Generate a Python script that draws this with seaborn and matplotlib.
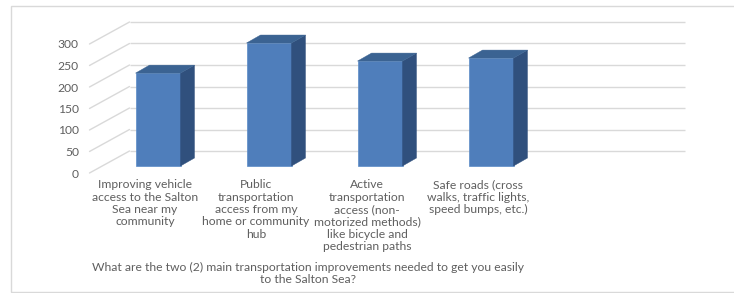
import numpy as np
import pandas as pd
import matplotlib
matplotlib.use("Agg")
import matplotlib.pyplot as plt
from matplotlib.patches import Polygon, Rectangle
import seaborn as sns

# ---- data ----
categories = [
    "Improving vehicle\naccess to the Salton\nSea near my\ncommunity",
    "Public\ntransportation\naccess from my\nhome or community\nhub",
    "Active\ntransportation\naccess (non-\nmotorized methods)\nlike bicycle and\npedestrian paths",
    "Safe roads (cross\nwalks, traffic lights,\nspeed bumps, etc.)",
]
values = [216, 286, 244, 251]
y_ticks = [0, 50, 100, 150, 200, 250, 300]
x_title = ("What are the two (2) main transportation improvements needed to get you easily\n"
           "to the Salton Sea?")

# ---- style ----
sns.set_theme(style="white")
plt.rcParams["font.family"] = ["Lato", "DejaVu Sans"]
TXT = "#5f5f5f"
GRID = "#d9d9d9"
FRONT = "#4F7EBB"
TOP = "#3B6392"
SIDE = "#30507D"
FS = 8.7

W, H, DPI = 734, 293, 100
fig = plt.figure(figsize=(W / DPI, H / DPI), dpi=DPI)

# pixel geometry
PX_X = 111.0      # px per category
PX_Y = 0.43       # px per value unit
X0, Y0 = 158.0, 166.0   # pixel of category 0 / value 0 on bar plane
XLIM = (-0.5, 4.5)
YLIM = (-20, 340)
left_px = X0 + XLIM[0] * PX_X
right_px = X0 + XLIM[1] * PX_X
bot_px = Y0 - YLIM[0] * PX_Y
top_px = Y0 - YLIM[1] * PX_Y
ax = fig.add_axes([left_px / W, 1 - bot_px / H, (right_px - left_px) / W, (bot_px - top_px) / H])

# depth offsets (data units)
bdx, bdy = 14 / PX_X, 8 / PX_Y          # bar depth
fdx, fdy = -13 / PX_X, -7 / PX_Y        # front plane relative to bar plane
kdx, kdy = 27 / PX_X, 15 / PX_Y         # back wall relative to bar plane

df = pd.DataFrame({"cat": categories, "val": values})
sns.barplot(data=df, x="cat", y="val", color=FRONT, saturation=1, width=45 / PX_X,
            edgecolor="#5b8bc7", linewidth=0.5, ax=ax, zorder=3)
ax.set_xlim(*XLIM)
ax.set_ylim(*YLIM)

# back wall + side wall gridlines
for v in y_ticks:
    ax.plot([XLIM[0] + kdx, XLIM[1] + kdx], [v + kdy, v + kdy], color=GRID, lw=1,
            zorder=1, clip_on=False, solid_capstyle="butt")
    ax.plot([XLIM[0] + fdx, XLIM[0] + kdx], [v + fdy, v + kdy], color=GRID, lw=1,
            zorder=1, clip_on=False)

# 3D sides and tops
for p in list(ax.patches):
    x, w, h = p.get_x(), p.get_width(), p.get_height()
    side = Polygon([(x + w, 0), (x + w + bdx, bdy), (x + w + bdx, h + bdy), (x + w, h)],
                   closed=True, facecolor=SIDE, edgecolor=SIDE, lw=0.3, zorder=3, clip_on=False)
    top = Polygon([(x, h), (x + bdx, h + bdy), (x + w + bdx, h + bdy), (x + w, h)],
                  closed=True, facecolor=TOP, edgecolor=TOP, lw=0.3, zorder=3, clip_on=False)
    ax.add_patch(side)
    ax.add_patch(top)

# ticks on the front plane
ax.set_yticks([v + fdy for v in y_ticks], [str(v) for v in y_ticks])
ax.set_xticks([i + fdx for i in range(len(categories))], categories)
ax.tick_params(axis="y", length=0, pad=17, labelsize=FS, labelcolor=TXT)
ax.tick_params(axis="x", length=0, pad=3.5, labelsize=FS, labelcolor=TXT)
for t in ax.get_xticklabels():
    t.set_linespacing(1.14)
ax.set_ylabel("")
ax.set_xlabel(x_title, fontsize=FS, color=TXT, linespacing=1.14)
ax.xaxis.set_label_coords((308 - left_px) / (right_px - left_px), -(262 - bot_px) / (bot_px - top_px))
ax.xaxis.label.set_va("top")
sns.despine(ax=ax, left=True, bottom=True)
ax.patch.set_alpha(0)

# chart frame
fig.patches.append(Rectangle((11 / W, 1 - 292 / H), (W + 5 - 11) / W, (292 - 6) / H,
                             transform=fig.transFigure, fill=False, edgecolor=GRID, lw=1, zorder=0))

fig.savefig("out.png", dpi=DPI)
